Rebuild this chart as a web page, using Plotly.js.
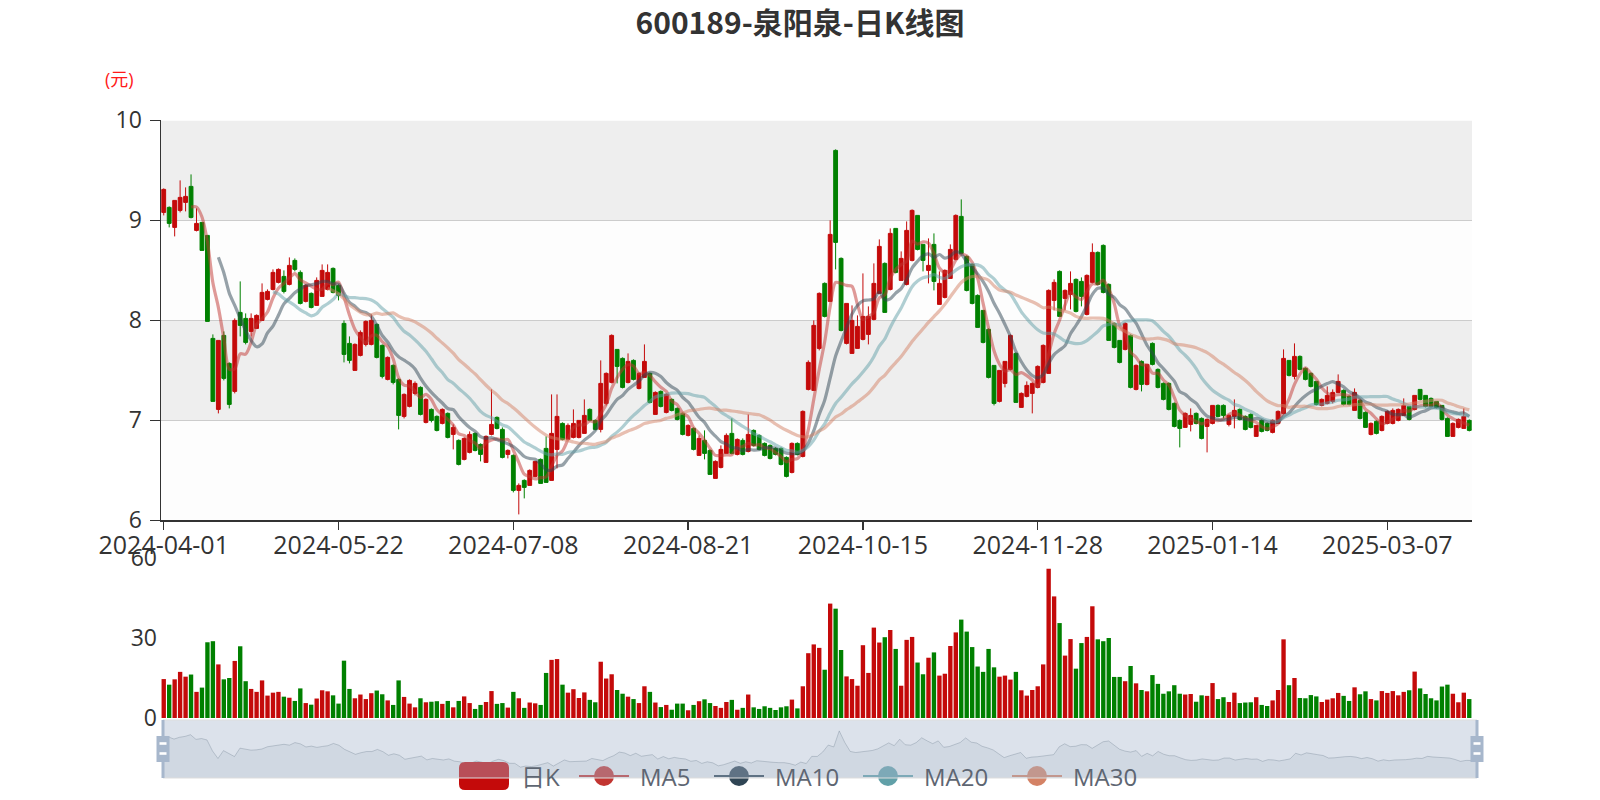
<!DOCTYPE html>
<html>
<head>
<meta charset="utf-8">
<script src="https://cdn.plot.ly/plotly-3.0.1.min.js"></script>
<style>
html,body{margin:0;padding:0;background:#fff;}
#chart{width:1600px;height:800px;}
</style>
</head>
<body>
<div id="chart"></div>
<script>
// ---------------- data ----------------
const tradingDays = [
  ["2024-04",[1,2,3,8,9,10,11,12,15,16,17,18,19,22,23,24,25,26,29,30]],
  ["2024-05",[6,7,8,9,10,13,14,15,16,17,20,21,22,23,24,27,28,29,30,31]],
  ["2024-06",[3,4,5,6,7,11,12,13,14,17,18,19,20,21,24,25,26,27,28]],
  ["2024-07",[1,2,3,4,5,8,9,10,11,12,15,16,17,18,19,22,23,24,25,26,29,30,31]],
  ["2024-08",[1,2,5,6,7,8,9,12,13,14,15,16,19,20,21,22,23,26,27,28,29,30]],
  ["2024-09",[2,3,4,5,6,9,10,11,12,13,18,19,20,23,24,25,26,27,30]],
  ["2024-10",[8,9,10,11,14,15,16,17,18,21,22,23,24,25,28,29,30,31]],
  ["2024-11",[1,4,5,6,7,8,11,12,13,14,15,18,19,20,21,22,25,26,27,28,29]],
  ["2024-12",[2,3,4,5,6,9,10,11,12,13,16,17,18,19,20,23,24,25,26,27,30,31]],
  ["2025-01",[2,3,6,7,8,9,10,13,14,15,16,17,20,21,22,23,24,27]],
  ["2025-02",[5,6,7,10,11,12,13,14,17,18,19,20,21,24,25,26,27,28]],
  ["2025-03",[3,4,5,6,7,10,11,12,13,14,17,18,19,20,21,24,25,26,27,28]]
];
const dates = tradingDays.flatMap(([m, ds]) => ds.map(d => m + "-" + String(d).padStart(2, "0")));

const openP = [
9.08,9.13,8.93,9.10,9.18,9.34,8.90,8.98,8.85,7.82,
7.11,7.85,7.57,7.29,8.08,8.02,7.89,7.92,8.00,8.21,
8.31,8.38,8.44,8.36,8.60,8.48,8.19,8.27,8.15,8.24,
8.31,8.52,8.35,7.97,7.77,7.50,7.65,7.76,7.76,7.96,
7.75,7.41,7.55,7.41,7.04,7.14,7.27,7.33,6.98,7.11,
7.04,6.97,7.07,6.86,6.80,6.61,6.68,6.87,6.76,6.58,
6.86,7.03,6.91,6.66,6.65,6.30,6.40,6.35,6.44,6.61,
6.72,6.40,6.71,6.97,6.81,6.83,6.83,6.87,7.11,7.00,
6.91,7.17,7.38,7.71,7.62,7.38,7.60,7.32,7.43,7.47,
7.06,7.29,7.08,7.21,7.12,7.07,6.85,6.92,6.65,6.80,
6.70,6.42,6.53,6.67,6.87,6.66,6.80,6.69,6.90,6.85,
6.77,6.75,6.72,6.72,6.63,6.48,6.77,6.64,7.31,7.30,
7.72,8.37,8.19,9.70,8.62,7.77,7.67,7.72,7.81,7.86,
8.01,8.27,8.57,8.31,8.92,8.40,8.36,8.60,9.05,8.76,
8.50,8.76,8.16,8.23,8.42,8.61,9.04,8.64,8.56,8.25,
8.10,7.91,7.55,7.19,7.37,7.51,7.67,7.13,7.24,7.27,
7.33,7.38,7.47,8.20,8.49,8.22,8.26,8.41,8.39,8.06,
8.38,8.68,8.75,8.36,7.97,7.80,7.71,7.85,7.31,7.59,
7.36,7.77,7.51,7.37,7.37,7.17,7.00,6.93,6.96,7.07,
7.02,6.94,6.97,7.15,7.15,6.96,7.04,7.11,7.04,7.06,
6.84,7.00,6.97,6.88,6.97,7.07,7.60,7.44,7.64,7.52,
7.47,7.39,7.15,7.17,7.19,7.28,7.30,7.24,7.10,7.20,
7.08,6.86,6.99,6.90,6.97,6.97,7.00,7.05,7.14,7.11,
7.31,7.25,7.22,7.19,7.15,7.02,6.84,6.93,6.92,7.00];

const closeP = [
9.31,8.97,9.20,9.23,9.24,9.03,8.97,8.70,7.99,7.19,
7.80,7.42,7.16,8.00,7.95,7.78,8.02,8.05,8.28,8.29,
8.48,8.51,8.29,8.55,8.51,8.17,8.35,8.13,8.40,8.50,
8.48,8.28,8.25,7.66,7.60,7.76,7.88,7.99,8.00,7.63,
7.44,7.63,7.38,7.05,7.26,7.40,7.37,7.06,7.21,7.00,
6.90,7.11,6.83,6.93,6.56,6.82,6.86,6.70,6.66,6.84,
6.96,6.92,6.63,6.70,6.30,6.35,6.33,6.50,6.59,6.37,
6.38,6.87,7.04,6.81,6.95,6.97,7.00,7.05,7.00,6.91,
7.37,7.47,7.85,7.54,7.33,7.59,7.41,7.47,7.59,7.18,
7.28,7.14,7.26,7.10,7.01,6.86,6.95,6.71,6.82,6.67,
6.46,6.59,6.71,6.85,6.67,6.81,6.66,6.86,6.75,6.71,
6.65,6.62,6.66,6.56,6.44,6.77,6.66,7.09,7.58,7.95,
8.27,8.04,8.86,8.78,7.90,8.17,8.00,7.94,8.04,8.04,
8.37,8.74,8.08,8.87,8.48,8.62,8.90,9.10,8.71,8.60,
8.55,8.39,8.37,8.50,8.71,9.05,8.67,8.30,8.17,7.93,
7.78,7.43,7.17,7.50,7.59,7.85,7.18,7.27,7.35,7.37,
7.54,7.75,8.30,8.38,8.04,8.30,8.37,8.09,8.24,8.45,
8.68,8.36,8.28,7.80,7.73,7.58,7.97,7.33,7.55,7.36,
7.56,7.56,7.33,7.21,7.11,6.94,6.92,7.07,7.05,6.97,
6.82,7.01,7.15,7.04,7.05,7.05,7.10,7.01,6.91,6.93,
6.95,6.89,6.90,7.00,7.09,7.62,7.45,7.64,7.51,7.41,
7.34,7.16,7.21,7.25,7.28,7.39,7.16,7.16,7.28,7.02,
6.93,6.97,6.87,7.04,7.09,7.10,7.11,7.15,7.01,7.25,
7.21,7.14,7.14,7.13,7.01,6.84,6.97,7.01,7.04,6.90];

const lowP = [
9.05,8.93,8.84,9.08,9.09,9.02,8.89,8.70,7.99,7.19,
7.07,7.40,7.12,7.27,7.84,7.76,7.84,7.92,8.00,8.20,
8.30,8.37,8.27,8.35,8.49,8.16,8.18,8.12,8.15,8.24,
8.30,8.27,8.20,7.58,7.57,7.50,7.64,7.74,7.75,7.62,
7.42,7.40,7.36,6.91,7.02,7.13,7.25,7.05,6.97,6.98,
6.89,6.96,6.82,6.71,6.55,6.60,6.67,6.69,6.59,6.58,
6.85,6.91,6.62,6.62,6.28,6.06,6.22,6.35,6.43,6.37,
6.38,6.40,6.52,6.80,6.80,6.82,6.82,6.87,6.99,6.90,
6.88,7.15,7.37,7.37,7.32,7.37,7.40,7.31,7.43,7.17,
7.06,7.13,7.07,7.09,7.00,6.85,6.84,6.70,6.65,6.61,
6.46,6.42,6.52,6.67,6.66,6.65,6.65,6.68,6.74,6.70,
6.64,6.61,6.65,6.55,6.43,6.47,6.65,6.63,7.30,7.30,
7.70,8.03,8.19,8.51,7.89,7.76,7.67,7.72,7.80,7.76,
8.00,8.27,8.08,8.30,8.47,8.40,8.35,8.59,8.70,8.49,
8.37,8.30,8.16,8.22,8.42,8.60,8.66,8.29,8.16,7.93,
7.77,7.42,7.15,7.18,7.33,7.50,7.18,7.13,7.23,7.07,
7.32,7.37,7.47,8.10,8.04,8.10,8.11,8.08,8.14,8.05,
8.37,8.35,8.27,7.80,7.72,7.57,7.70,7.32,7.30,7.29,
7.35,7.55,7.32,7.20,7.10,6.93,6.73,6.93,6.89,6.96,
6.81,6.68,6.96,7.03,7.02,6.94,6.92,7.00,6.90,6.92,
6.84,6.88,6.89,6.87,6.97,7.06,7.44,7.41,7.50,7.40,
7.33,7.15,7.14,7.16,7.17,7.28,7.15,7.15,7.10,7.01,
6.93,6.85,6.86,6.89,6.96,6.96,6.99,7.05,7.00,7.10,
7.20,7.13,7.13,7.12,7.00,6.84,6.84,6.92,6.92,6.89];

const highP = [
9.32,9.14,9.20,9.40,9.33,9.46,9.12,8.98,8.85,7.86,
7.80,7.89,7.58,8.02,8.39,8.07,8.07,8.06,8.37,8.31,
8.51,8.52,8.50,8.63,8.62,8.50,8.36,8.28,8.43,8.56,
8.56,8.53,8.36,8.00,7.84,7.77,7.90,8.00,8.06,7.97,
7.76,7.64,7.56,7.42,7.27,7.41,7.39,7.34,7.22,7.12,
7.05,7.12,7.08,6.96,6.81,6.83,6.89,6.88,6.77,6.85,
7.31,7.04,6.93,6.71,6.66,6.37,6.41,6.51,6.59,6.62,
6.84,7.26,7.26,6.98,6.97,7.11,7.00,7.21,7.12,7.01,
7.60,7.48,7.86,7.71,7.63,7.67,7.61,7.48,7.76,7.48,
7.29,7.30,7.27,7.22,7.13,7.08,6.96,6.93,6.85,6.90,
6.71,6.60,6.75,6.87,7.02,6.82,6.82,7.06,6.91,6.86,
6.78,6.76,6.73,6.73,6.64,6.78,6.78,7.10,7.60,8.00,
8.28,8.38,9.00,9.71,8.63,8.17,8.15,8.05,8.47,8.14,
8.57,8.81,8.58,8.92,8.92,8.69,8.99,9.11,9.05,8.76,
8.82,8.87,8.49,8.51,8.76,9.06,9.21,8.65,8.57,8.26,
8.10,7.92,7.55,7.50,7.59,7.86,7.68,7.28,7.39,7.38,
7.55,7.76,8.31,8.41,8.50,8.31,8.49,8.42,8.43,8.46,
8.77,8.69,8.76,8.37,7.98,7.80,7.98,7.86,7.56,7.60,
7.56,7.78,7.52,7.38,7.38,7.18,7.01,7.08,7.12,7.08,
7.03,7.02,7.15,7.16,7.16,7.06,7.21,7.12,7.05,7.07,
6.95,7.01,6.98,7.01,7.10,7.71,7.60,7.77,7.65,7.53,
7.48,7.39,7.22,7.34,7.31,7.46,7.31,7.25,7.32,7.21,
7.09,6.98,7.00,7.05,7.10,7.12,7.12,7.22,7.14,7.25,
7.31,7.25,7.23,7.19,7.15,7.03,6.98,7.02,7.12,7.01];

const volume = [
14.6,12.5,14.5,17.3,15.5,16.3,9.8,11.4,28.4,28.8,
20.1,14.5,15.0,21.4,26.9,13.8,10.9,9.8,14.1,8.4,
9.5,9.8,8.0,7.6,6.4,11.1,5.6,5.0,7.3,10.4,
10.0,8.5,5.4,21.5,10.9,7.4,8.8,7.1,9.3,10.3,
8.9,6.6,4.9,14.1,7.9,5.4,4.0,7.4,5.9,6.1,
6.3,5.3,6.4,4.0,6.4,8.1,5.6,3.4,4.9,6.0,
10.1,5.3,5.6,3.9,9.8,7.4,3.8,5.8,5.5,4.9,
16.9,21.8,22.1,12.5,9.5,10.8,7.5,9.6,6.8,5.9,
21.1,14.8,16.4,10.5,9.1,8.0,7.1,5.6,11.9,9.8,
5.8,4.1,4.9,3.1,5.4,5.4,2.9,4.9,6.3,7.0,
5.6,4.5,3.8,6.0,6.8,3.1,3.8,8.8,4.0,3.4,
4.4,3.8,3.0,4.0,4.4,6.9,3.6,11.9,24.3,27.6,
26.3,18.1,42.9,41.0,25.5,15.6,14.6,12.1,27.3,16.9,
33.9,28.3,30.3,33.0,25.9,12.1,29.3,30.4,20.8,16.4,
22.6,24.6,15.9,16.6,27.0,32.1,36.9,32.4,26.6,19.3,
17.3,25.9,19.0,15.5,15.9,14.4,17.3,10.4,8.4,10.5,
11.9,20.1,56.0,45.6,35.6,23.4,29.6,18.5,28.1,30.4,
41.9,29.5,28.8,30.0,15.4,15.4,13.8,19.5,13.0,10.5,
10.0,16.1,12.8,9.1,10.0,12.3,9.1,8.8,9.0,6.1,
8.5,8.3,13.1,7.1,7.8,6.0,9.5,5.6,5.8,5.9,
7.8,4.9,4.5,6.6,10.5,29.5,12.3,15.0,7.5,7.4,
8.6,8.1,6.0,6.9,7.4,9.4,8.3,6.4,11.5,8.9,
10.0,7.1,6.6,10.1,9.4,10.1,8.5,9.8,10.4,17.4,
11.1,9.0,7.4,6.6,11.8,12.5,9.1,5.9,9.5,7.1];

const maDays = [5, 10, 20, 30];
const maNames = ["MA5", "MA10", "MA20", "MA30"];
const maColors = ["#c23531", "#2f4554", "#61a0a8", "#d48265"];
const tickEvery = 32;
const chartTitle = "600189-泉阳泉-日K线图";
const legendKName = "日K";
const yUnit = "(元)";

// ---------------- styling ----------------
const UP = "#c40a0a", DOWN = "#008000";
const W = 1600, H = 800;
const px = x => x / W, py = y => 1 - y / H;
const FONT = "Open Sans, Noto Sans CJK SC, sans-serif";
function rgba(hex, a) {
  const n = parseInt(hex.slice(1), 16);
  return `rgba(${(n >> 16) & 255},${(n >> 8) & 255},${n & 255},${a})`;
}
function calcMA(n) {
  return closeP.map((_, i) => {
    if (i < n) return null;
    let s = 0;
    for (let j = 0; j < n; j++) s += closeP[i - j];
    return s / n;
  });
}

const gridL = 161, gridR = 1472;
const mainTop = 120.4, mainBot = 520.4;
const volTop = 558, volBot = 718;
const slL = 163, slR = 1477, slT = 720, slB = 778;

const traces = [];
traces.push({
  type: "candlestick", x: dates, open: openP, high: highP, low: lowP, close: closeP,
  xaxis: "x", yaxis: "y", showlegend: false, whiskerwidth: 0,
  increasing: {line: {color: UP, width: 1}, fillcolor: UP},
  decreasing: {line: {color: DOWN, width: 1}, fillcolor: DOWN},
  hoverinfo: "x+y"
});
maDays.forEach((n, k) => {
  traces.push({
    type: "scatter", mode: "lines", x: dates, y: calcMA(n), name: maNames[k],
    xaxis: "x", yaxis: "y", showlegend: false, connectgaps: false,
    line: {color: rgba(maColors[k], 0.5), width: 3.2, shape: "spline", smoothing: 0.8}
  });
});
traces.push({
  type: "bar", x: dates, y: volume, xaxis: "x2", yaxis: "y2", showlegend: false,
  marker: {color: closeP.map((c, i) => c >= openP[i] ? UP : DOWN)}
});
// data shadow of the zoom slider
const oMin = Math.min(...openP), oMax = Math.max(...openP), oPad = (oMax - oMin) * 0.3;
traces.push({
  type: "scatter", mode: "lines", x: dates, y: openP, xaxis: "x3", yaxis: "y3",
  showlegend: false, fill: "tozeroy", fillcolor: "rgba(47,69,84,0.09)",
  line: {color: "rgba(47,69,84,0.3)", width: 1}, hoverinfo: "skip"
});

const tickVals = dates.filter((_, i) => i % tickEvery === 0);

const shapes = [];
// split areas
[[6, 7, "rgba(250,250,250,0.3)"], [7, 8, "rgba(200,200,200,0.3)"],
 [8, 9, "rgba(250,250,250,0.3)"], [9, 10, "rgba(200,200,200,0.3)"]].forEach(([a, b, c]) => {
  shapes.push({type: "rect", xref: "x domain", yref: "y", x0: 0, x1: 1, y0: a, y1: b,
    fillcolor: c, line: {width: 0}, layer: "below"});
});

// legend (drawn by hand, below the slider filler)
function roundRect(x0, y0, x1, y1, r) {
  const X = px, Y = py;
  return `M${X(x0 + r)},${Y(y0)} L${X(x1 - r)},${Y(y0)} Q${X(x1)},${Y(y0)} ${X(x1)},${Y(y0 + r)} ` +
    `L${X(x1)},${Y(y1 - r)} Q${X(x1)},${Y(y1)} ${X(x1 - r)},${Y(y1)} L${X(x0 + r)},${Y(y1)} ` +
    `Q${X(x0)},${Y(y1)} ${X(x0)},${Y(y1 - r)} L${X(x0)},${Y(y0 + r)} Q${X(x0)},${Y(y0)} ${X(x0 + r)},${Y(y0)} Z`;
}
const legY = 776;
const annotations = [];
const legTextColor = "#5e6672";
shapes.push({type: "path", xref: "paper", yref: "paper", path: roundRect(459, 762, 509, 790, 6),
  fillcolor: UP, line: {width: 0}, layer: "above"});
annotations.push({xref: "paper", yref: "paper", x: px(519), y: py(legY), xanchor: "left", yanchor: "middle",
  text: legendKName, showarrow: false, font: {family: FONT, size: 24, color: legTextColor}});
const legX = [579, 714, 863, 1012];
maNames.forEach((nm, k) => {
  const x0 = legX[k], cx = x0 + 25;
  shapes.push({type: "line", xref: "paper", yref: "paper", x0: px(x0), x1: px(x0 + 50), y0: py(legY), y1: py(legY),
    line: {color: maColors[k], width: 2}, layer: "above"});
  shapes.push({type: "circle", xref: "paper", yref: "paper", x0: px(cx - 10), x1: px(cx + 10), y0: py(legY - 10), y1: py(legY + 10),
    fillcolor: maColors[k], line: {width: 0}, layer: "above"});
  annotations.push({xref: "paper", yref: "paper", x: px(x0 + 59), y: py(legY), xanchor: "left", yanchor: "middle",
    text: nm, showarrow: false, font: {family: FONT, size: 24, color: legTextColor}});
});

// slider filler + border + handles
shapes.push({type: "rect", xref: "paper", yref: "paper", x0: px(slL), x1: px(slR), y0: py(slB), y1: py(slT),
  fillcolor: "rgba(167,183,204,0.4)", line: {width: 0}, layer: "above"});
shapes.push({type: "rect", xref: "paper", yref: "paper", x0: px(slL), x1: px(slR), y0: py(slB), y1: py(slT),
  fillcolor: "rgba(0,0,0,0)", line: {color: "#dddddd", width: 1}, layer: "above"});
[slL, slR].forEach(hx => {
  shapes.push({type: "rect", xref: "paper", yref: "paper", x0: px(hx - 1.5), x1: px(hx + 1.5), y0: py(slB), y1: py(slT),
    fillcolor: "#a7b7cc", line: {width: 0}, layer: "above"});
  shapes.push({type: "rect", xref: "paper", yref: "paper", x0: px(hx - 6.5), x1: px(hx + 6.5), y0: py(762), y1: py(736),
    fillcolor: "#a7b7cc", line: {width: 0}, layer: "above"});
  [743.5, 753.5].forEach(my => {
    shapes.push({type: "rect", xref: "paper", yref: "paper", x0: px(hx - 3.5), x1: px(hx + 3.5), y0: py(my + 1.3), y1: py(my - 1.3),
      fillcolor: "#ffffff", line: {width: 0}, layer: "above"});
  });
});

annotations.push({xref: "paper", yref: "paper", x: px(119.5), y: py(79), xanchor: "center", yanchor: "middle",
  text: yUnit, showarrow: false, font: {family: FONT, size: 18, color: "#ff1a1a"}});

const layout = {
  width: W, height: H,
  margin: {l: 0, r: 0, t: 0, b: 0, pad: 0},
  paper_bgcolor: "#ffffff", plot_bgcolor: "rgba(0,0,0,0)",
  font: {family: FONT, color: "#333333"},
  title: {text: "<b>" + chartTitle + "</b>", x: 0.5, xanchor: "center", y: py(23), yanchor: "middle",
    font: {family: "Noto Sans CJK SC, sans-serif", size: 30, color: "#333333"}},
  showlegend: false,
  boxgap: 0.3, boxgroupgap: 0, bargap: 0.2,
  hovermode: false,
  xaxis: {
    domain: [px(gridL), px(gridR)], anchor: "y", type: "category", range: [-0.5, dates.length - 0.5],
    rangeslider: {visible: false}, tickmode: "array", tickvals: tickVals, ticktext: tickVals,
    ticks: "outside", ticklen: 8, tickwidth: 1.5, tickcolor: "#333333", ticklabelstandoff: -6,
    showline: true, linecolor: "#333333", linewidth: 1.5, showgrid: false, zeroline: false,
    tickfont: {size: 25, color: "#333333"}, fixedrange: true
  },
  yaxis: {
    domain: [py(mainBot), py(mainTop)], anchor: "x", range: [6, 10], tick0: 6, dtick: 1,
    ticks: "outside", ticklen: 10, tickwidth: 1.5, tickcolor: "#333333", ticklabelstandoff: 3,
    showline: true, linecolor: "#333333", linewidth: 1.5,
    showgrid: true, gridcolor: "#cccccc", gridwidth: 1.5, zeroline: false,
    tickfont: {size: 23, color: "#333333"}, fixedrange: true
  },
  xaxis2: {
    domain: [px(gridL), px(gridR)], anchor: "y2", type: "category", range: [-0.5, dates.length - 0.5],
    showticklabels: false, ticks: "", showline: false, showgrid: false, zeroline: false, fixedrange: true
  },
  yaxis2: {
    domain: [py(volBot), py(volTop)], anchor: "x2", range: [0, 60], tickmode: "array", tickvals: [0, 30, 60],
    ticks: "", showline: false, showgrid: false, zeroline: false, ticklabelstandoff: 3,
    tickfont: {size: 23, color: "#333333"}, fixedrange: true
  },
  xaxis3: {
    domain: [px(slL), px(slR)], anchor: "y3", type: "category", range: [0, dates.length - 1],
    visible: false, fixedrange: true
  },
  yaxis3: {
    domain: [py(slB), py(slT)], anchor: "x3", range: [oMin - oPad, oMax + oPad],
    visible: false, fixedrange: true
  },
  shapes: shapes,
  annotations: annotations
};

Plotly.newPlot("chart", traces, layout, {displayModeBar: false, staticPlot: true});
</script>
</body>
</html>
